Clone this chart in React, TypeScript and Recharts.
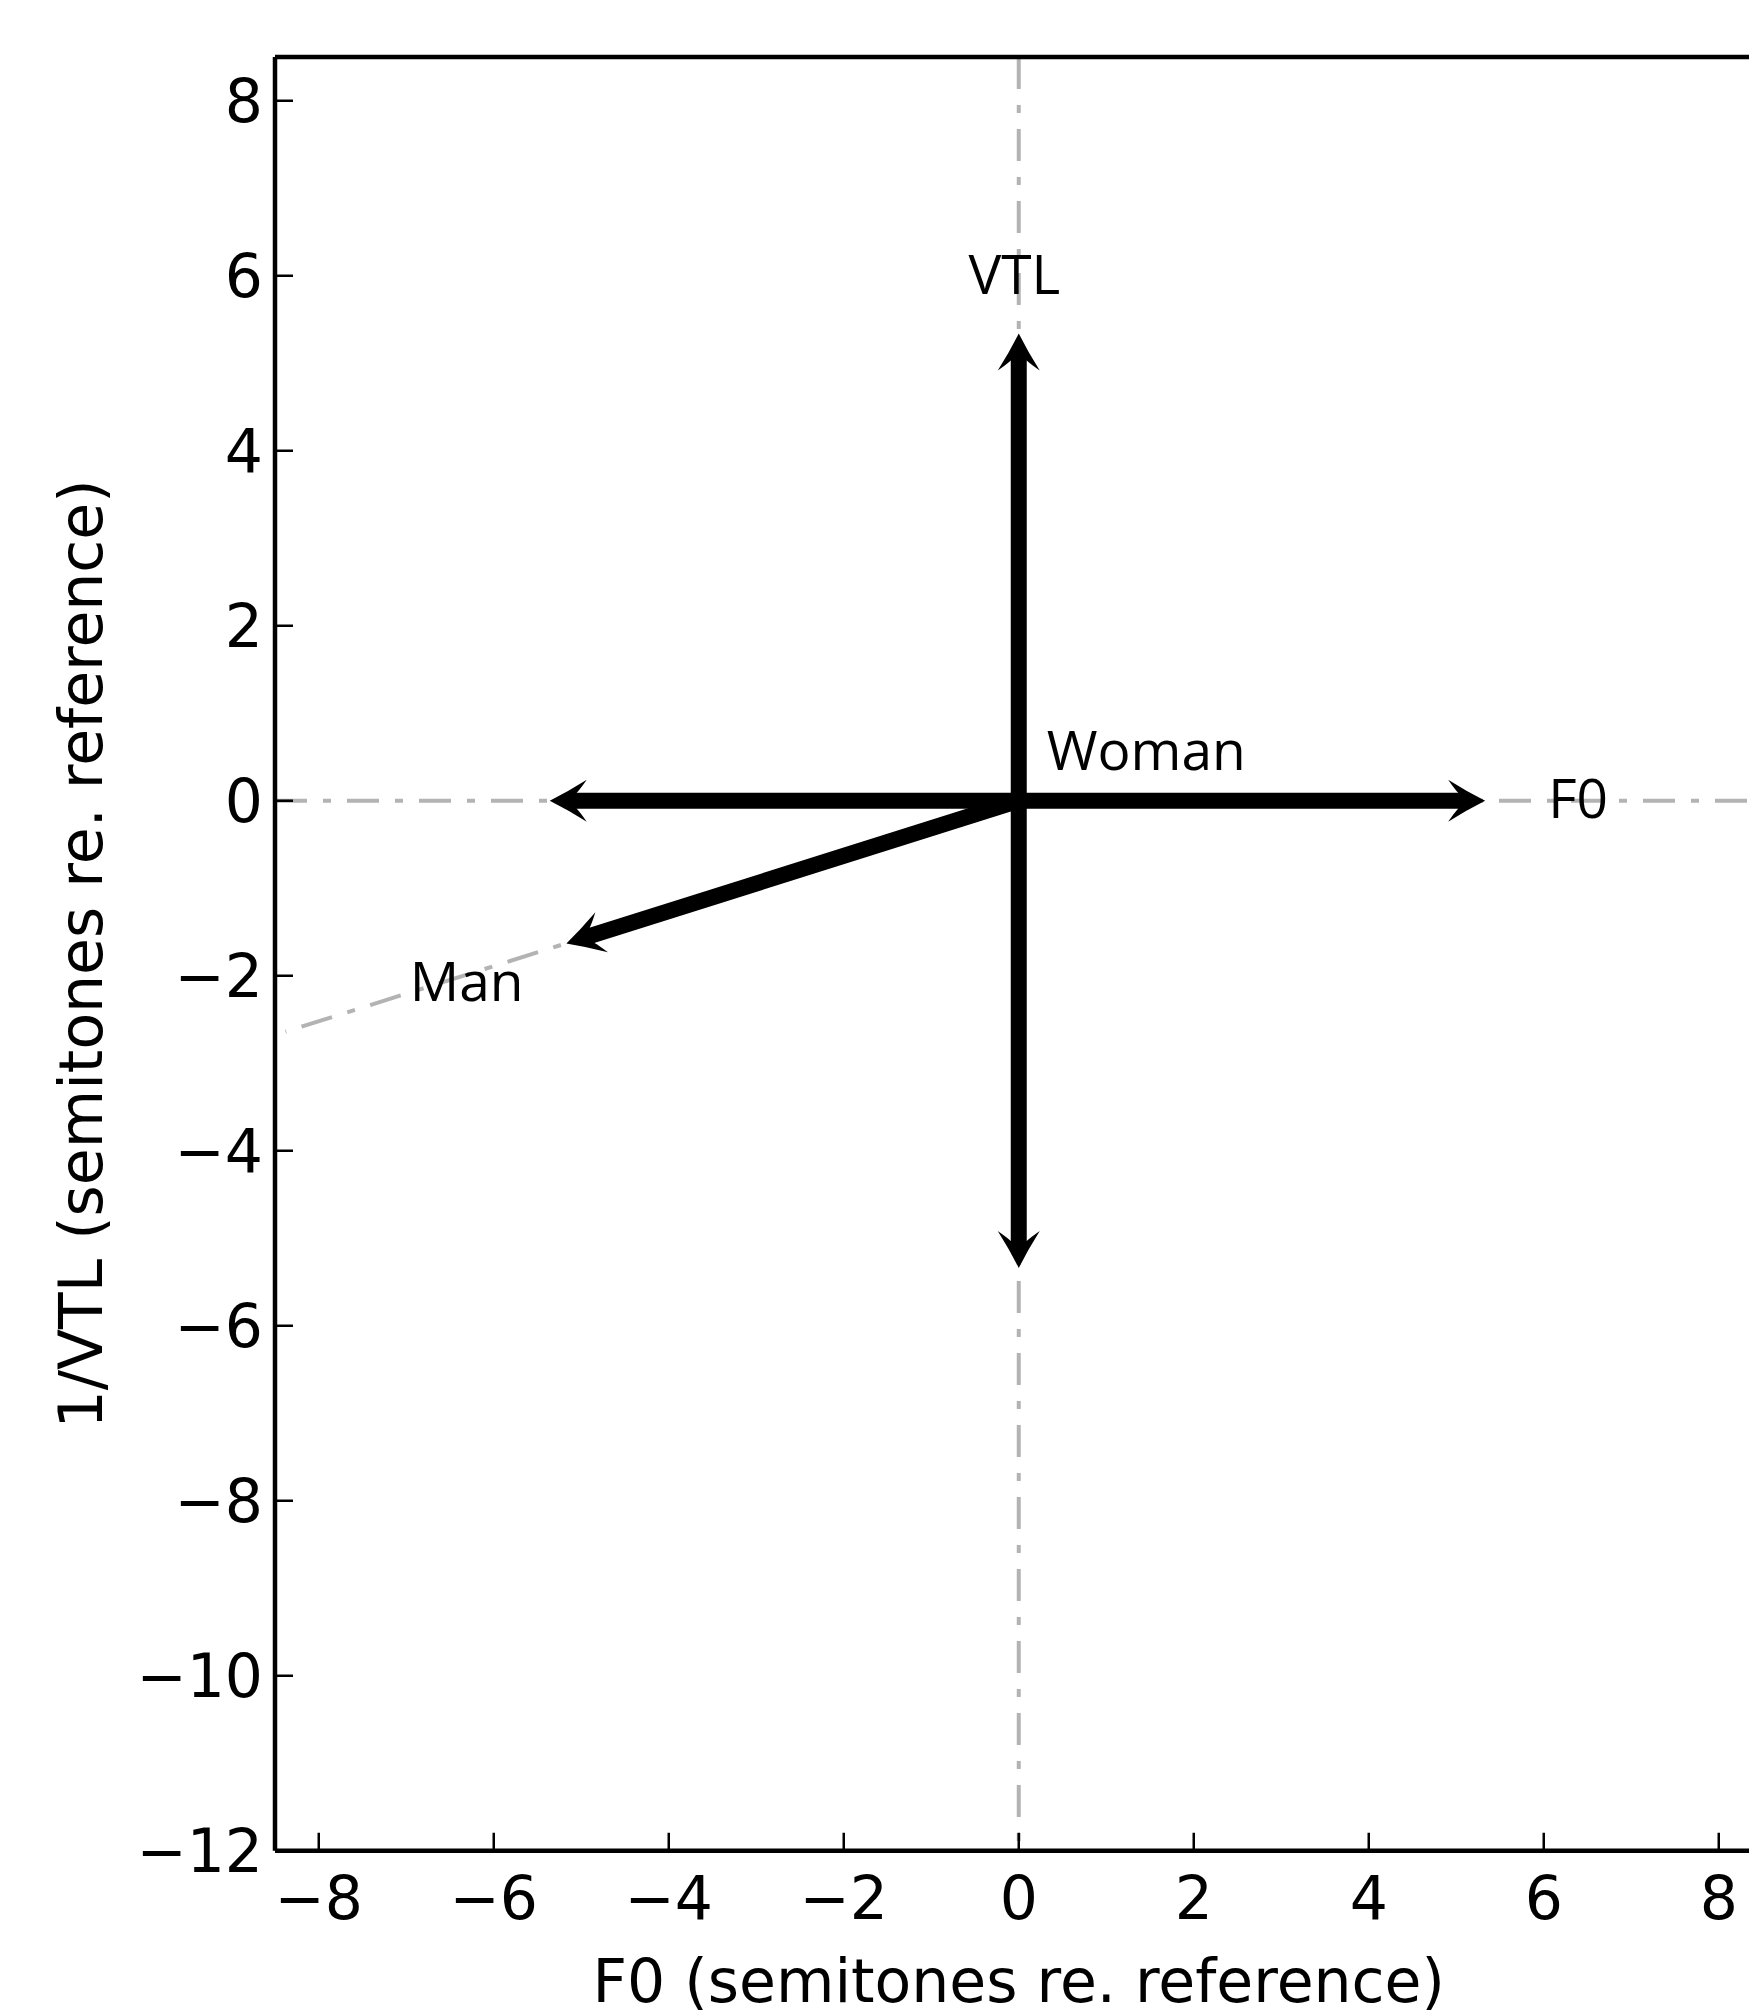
import { ReferenceLine, Scatter, ScatterChart, XAxis, YAxis } from 'recharts';

const xDomain: [number, number] = [-8.5, 8.5];
const yDomain: [number, number] = [-12, 8.5];
const xTicks = [-8, -6, -4, -2, 0, 2, 4, 6, 8];
const yTicks = [-12, -10, -8, -6, -4, -2, 0, 2, 4, 6, 8];

// every arrow starts at the reference voice (Woman) in the origin
const origin = { x: 0, y: 0 };
const arrowTips = [
  { name: 'F0 up', x: 5.33, y: 0 },
  { name: 'F0 down', x: -5.36, y: 0 },
  { name: 'VTL up', x: 0, y: 5.34 },
  { name: 'VTL down', x: 0, y: -5.34 },
  { name: 'Man', x: -5.17, y: -1.63 },
];

// grey dash-dot guides behind the arrows
const guides = [
  { name: 'F0 axis', from: { x: -8.5, y: 0 }, to: { x: 8.5, y: 0 } },
  { name: 'VTL axis', from: { x: 0, y: 8.5 }, to: { x: 0, y: -12 } },
  { name: 'Man direction', from: { x: 0, y: 0 }, to: { x: -8.38, y: -2.64 } },
];

const annotations = [
  { text: 'VTL', x: -0.05, y: 5.79, anchor: 'middle' },
  { text: 'Woman', x: 0.32, y: 0.35, anchor: 'start' },
  { text: 'F0', x: 6.05, y: -0.2, anchor: 'start' },
  { text: 'Man', x: -6.96, y: -2.29, anchor: 'start' },
];

const tickFont = { fontSize: 60, fontFamily: '"DejaVu Sans", sans-serif', fill: '#000' };
const spine = { stroke: '#000', strokeWidth: 4.5 };
const tickMark = { stroke: '#000', strokeWidth: 2.5 };

const fmt = (v: number) => (v < 0 ? `\u2212${-v}` : String(v));

// swept-back head, tip at 0,0 pointing along +x
const HEAD = 'M0 0 Q-18 -9 -37 -21 Q-30 -11 -27 -8 L-27 8 Q-30 11 -37 21 Q-18 9 0 0 Z';

function Arrow(props: any) {
  const { x1, y1, x2, y2 } = props;
  const len = Math.hypot(x2 - x1, y2 - y1);
  const deg = (Math.atan2(y2 - y1, x2 - x1) * 180) / Math.PI;
  return (
    <g transform={`translate(${x2} ${y2}) rotate(${deg})`}>
      <line x1={-len} y1={0} x2={-20} y2={0} stroke="#000" strokeWidth={16}/>
      <path d={HEAD} fill="#000"/>
    </g>
  );
}

function Annotation({ cx, cy, payload }: any) {
  return (
    <text x={cx} y={cy} textAnchor={payload.anchor} fontSize={55} fontFamily='"Open Sans", sans-serif' fill="#000">
      {payload.text}
    </text>
  );
}

export default function App() {
  return (
    <div style={{ position: 'absolute', left: 0, top: 0, width: 1749, height: 2015, overflow: 'hidden', background: '#fff' }}>
      <ScatterChart width={1770} height={2015} margin={{ top: 56, right: 6.5, bottom: 4.25, left: 75 }}>
        <XAxis xAxisId="b" type="number" dataKey="x" domain={xDomain} ticks={xTicks} allowDataOverflow interval={0}
          tickFormatter={fmt} tick={tickFont} tickSize={-18} tickMargin={44} tickLine={tickMark} axisLine={spine} height={160}
          label={{ value: 'F0 (semitones re. reference)', position: 'insideBottom', offset: 9, ...tickFont }}/>
        <XAxis xAxisId="t" orientation="top" type="number" domain={xDomain} ticks={xTicks} allowDataOverflow interval={0}
          tick={false} tickSize={-18} tickLine={tickMark} axisLine={spine} height={1}/>
        <YAxis yAxisId="l" type="number" dataKey="y" domain={yDomain} ticks={yTicks} allowDataOverflow interval={0}
          tickFormatter={fmt} tick={tickFont} tickSize={-18} tickMargin={30} tickLine={tickMark} axisLine={spine} width={200}
          label={{ value: '1/VTL (semitones re. reference)', angle: -90, position: 'insideLeft', offset: 6, style: { textAnchor: 'middle' }, ...tickFont }}/>
        <YAxis yAxisId="r" orientation="right" type="number" domain={yDomain} ticks={yTicks} allowDataOverflow interval={0}
          tick={false} tickSize={-18} tickLine={tickMark} axisLine={spine} width={1}/>
        {guides.map((g) => (
          <ReferenceLine key={g.name} xAxisId="b" yAxisId="l" segment={[g.from, g.to]} stroke="#b3b3b3" strokeWidth={4} strokeDasharray="32 16 8 16"/>
        ))}
        {arrowTips.map((t) => (
          <ReferenceLine key={t.name} xAxisId="b" yAxisId="l" segment={[origin, { x: t.x, y: t.y }]} shape={Arrow}/>
        ))}
        <Scatter data={annotations} xAxisId="b" yAxisId="l" shape={Annotation} isAnimationActive={false}/>
      </ScatterChart>
    </div>
  );
}
